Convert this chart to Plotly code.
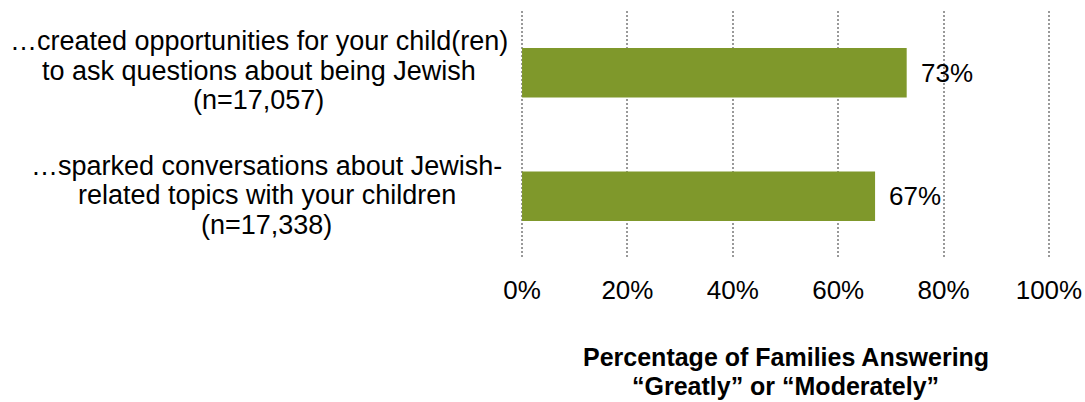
import plotly.graph_objects as go

# Survey items (each wrapped into lines) and share of families
# answering "Greatly" or "Moderately"
item_keys = ["opportunities", "conversations"]
item_lines = [
    ["…created opportunities for your child(ren)",
     "to ask questions about being Jewish",
     "(n=17,057)"],
    ["…sparked conversations about Jewish-",
     "related topics with your children",
     "(n=17,338)"],
]
values = [73, 67]
value_labels = ["73%", "67%"]
tick_vals = [0, 20, 40, 60, 80, 100]
tick_text = ["0%", "20%", "40%", "60%", "80%", "100%"]
axis_title_lines = ["Percentage of Families Answering", "“Greatly” or “Moderately”"]

FONT = "Liberation Sans, Arial, sans-serif"
BAR = "#7F982B"
LABEL_SIZE = 27
TICK_SIZE = 26
LINE_STEP = 29.5          # px between wrapped label lines
label_centers = [-0.4953, -0.4802]   # paper x of each item label block
label_lift = [2, 1]                  # px nudge of each label block

fig = go.Figure()
fig.add_trace(go.Bar(
    x=values,
    y=item_keys,
    orientation="h",
    marker=dict(color=BAR, line=dict(width=0)),
    width=0.4,
    hoverinfo="skip",
))

# value labels just beyond each bar end
for key, v, lab in zip(item_keys, values, value_labels):
    fig.add_annotation(
        x=v, y=key, xref="x", yref="y",
        text=lab, showarrow=False,
        xanchor="left", yanchor="middle", xshift=12,
        font=dict(family=FONT, size=TICK_SIZE, color="#000000"),
    )

# wrapped item labels on the left, each line centred
for key, lines, cx, lift in zip(item_keys, item_lines, label_centers, label_lift):
    n = len(lines)
    for i, line in enumerate(lines):
        fig.add_annotation(
            x=cx, y=key, xref="paper", yref="y",
            text=line, showarrow=False,
            xanchor="center", yanchor="middle",
            yshift=((n - 1) / 2 - i) * LINE_STEP + lift,
            font=dict(family=FONT, size=LABEL_SIZE, color="#000000"),
        )

# two-line bold axis title under the tick labels
for i, line in enumerate(axis_title_lines):
    fig.add_annotation(
        x=0.5, y=0, xref="paper", yref="paper",
        text=f"<b>{line}</b>", showarrow=False,
        xanchor="center", yanchor="middle",
        yshift=-(99 + i * 28.5),
        font=dict(family=FONT, size=25, color="#000000"),
    )

fig.update_layout(
    width=1085, height=402,
    margin=dict(l=521, r=35, t=11, b=144, autoexpand=False),
    paper_bgcolor="white", plot_bgcolor="white",
    showlegend=False,
    font=dict(family=FONT, size=TICK_SIZE, color="#000000"),
    xaxis=dict(
        # a hair of padding so the 0% and 100% gridlines are drawn
        range=[-0.2, 100.2],
        tickvals=tick_vals, ticktext=tick_text,
        showgrid=True, gridcolor="#999999", gridwidth=2, griddash="2px,2px",
        zeroline=False, showline=False,
        ticks="", ticklabelstandoff=14,
        tickfont=dict(family=FONT, size=TICK_SIZE, color="#000000"),
        automargin=False,
        fixedrange=True,
    ),
    yaxis=dict(
        categoryorder="array", categoryarray=item_keys,
        autorange="reversed",
        showticklabels=False, showgrid=False, zeroline=False, showline=False,
        automargin=False,
        fixedrange=True,
    ),
)

fig.write_html("out.html")
